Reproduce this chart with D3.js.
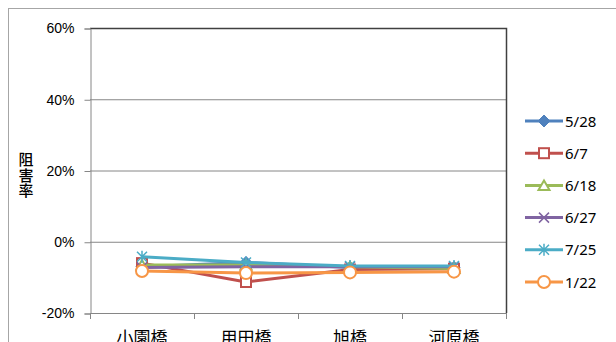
<!DOCTYPE html>
<html>
<head>
<meta charset="utf-8">
<script src="https://cdn.jsdelivr.net/npm/d3@7"></script>
<style>
  body { margin: 0; background: #fff; }
  svg { display: block; font-family: "Noto Sans", "Noto Sans CJK JP", sans-serif; }
</style>
</head>
<body>
<svg width="616" height="342"></svg>
<script>
// データ
const categories = ["小園橋", "用田橋", "旭橋", "河原橋"];
const seriesNames = ["5/28", "6/7", "6/18", "6/27", "7/25", "1/22"];
const v0528 = [-0.070, -0.058, -0.072, -0.072];
const v0607 = [-0.060, -0.113, -0.078, -0.076];
const v0618 = [-0.065, -0.065, -0.070, -0.075];
const v0627 = [-0.072, -0.070, -0.070, -0.070];
const v0725 = [-0.042, -0.058, -0.068, -0.068];
const v0122 = [-0.082, -0.088, -0.086, -0.084];
const yTicks = [-0.2, 0, 0.2, 0.4, 0.6];

const colors = ["#4F81BD", "#C0504D", "#9BBB59", "#8064A2", "#4BACC6", "#F79646"];
const markers = ["diamond", "square", "triangle", "cross", "star", "circle"];
const allValues = [v0528, v0607, v0618, v0627, v0725, v0122];

const series = seriesNames.map((name, i) => ({
    name: name,
    color: colors[i],
    marker: markers[i],
    values: allValues[i]
}));

const svg = d3.select("svg");

// 外枠
svg.append("rect")
    .attr("x", 8.5).attr("y", 8.5)
    .attr("width", 700).attr("height", 400)
    .attr("fill", "none")
    .attr("stroke", "#a6a6a6");

const plotLeft = 90, plotRight = 506, plotTop = 28, plotBottom = 313;

const x = d3.scaleBand().domain(categories).range([plotLeft, plotRight]);
const y = d3.scaleLinear().domain([-0.2, 0.6]).range([plotBottom, plotTop]);

// グリッド線
svg.append("g")
    .selectAll("line")
    .data(yTicks.filter(d => d > -0.2 && d < 0.6))
    .join("line")
    .attr("x1", plotLeft).attr("x2", plotRight)
    .attr("y1", d => y(d) + 0.5).attr("y2", d => y(d) + 0.5)
    .attr("stroke", "#868686");

// プロット枠 (上・右)
svg.append("path")
    .attr("d", `M${plotLeft},${y(0.6) + 0.5}H${plotRight + 0.5}V${plotBottom}`)
    .attr("fill", "none")
    .attr("stroke", "#404040")
    .attr("stroke-width", 1.5);

// Y軸
const pct = d3.format(".0%");
const yAxis = svg.append("g")
    .attr("transform", `translate(${plotLeft + 0.5},0.5)`)
    .call(d3.axisLeft(y).tickValues(yTicks)
        .tickFormat(d => pct(d).replace("−", "-"))
        .tickSize(6).tickPadding(10));
yAxis.select(".domain").attr("stroke", "#868686");
yAxis.selectAll(".tick line").attr("stroke", "#868686");
yAxis.selectAll("text").attr("font-size", 14).attr("fill", "#000");

// X軸
const xTickPos = d3.range(categories.length + 1).map(i => plotLeft + i * x.step());
svg.append("line")
    .attr("x1", plotLeft).attr("x2", plotRight)
    .attr("y1", plotBottom + 0.5).attr("y2", plotBottom + 0.5)
    .attr("stroke", "#868686");
svg.append("g")
    .selectAll("line")
    .data(xTickPos)
    .join("line")
    .attr("x1", d => Math.round(d) + 0.5).attr("x2", d => Math.round(d) + 0.5)
    .attr("y1", plotBottom).attr("y2", plotBottom + 6)
    .attr("stroke", "#868686");
svg.append("g")
    .selectAll("text")
    .data(categories)
    .join("text")
    .attr("x", d => x(d) + x.bandwidth() / 2)
    .attr("y", 344)
    .attr("text-anchor", "middle")
    .attr("font-size", 17)
    .attr("font-family", "Noto Sans CJK JP")
    .text(d => d);

// Y軸タイトル (縦書き)
const yTitle = svg.append("text")
    .attr("text-anchor", "middle")
    .attr("font-size", 15)
    .attr("font-weight", 500)
    .attr("font-family", "Noto Sans CJK JP");
yTitle.selectAll("tspan")
    .data(["阻", "害", "率"])
    .join("tspan")
    .attr("x", 26)
    .attr("y", (d, i) => 165 + i * 15.5)
    .text(d => d);

// マーカー描画
function drawMarker(g, type, color) {
    if (type === "diamond") {
        g.append("path").attr("d", "M0,-6L6,0L0,6L-6,0Z")
            .attr("fill", color).attr("stroke", color);
    } else if (type === "square") {
        g.append("rect").attr("x", -5).attr("y", -5).attr("width", 10).attr("height", 10)
            .attr("fill", "#fff").attr("stroke", color).attr("stroke-width", 2);
    } else if (type === "triangle") {
        g.append("path").attr("d", "M0,-5L5.5,4.5L-5.5,4.5Z")
            .attr("fill", "#fff").attr("stroke", color).attr("stroke-width", 2);
    } else if (type === "cross") {
        g.append("path").attr("d", "M-5,-5L5,5M-5,5L5,-5")
            .attr("stroke", color).attr("stroke-width", 1.5);
    } else if (type === "star") {
        g.append("path").attr("d", "M-5,-5L5,5M-5,5L5,-5M0,-6L0,6")
            .attr("stroke", color).attr("stroke-width", 1.5);
    } else {
        g.append("circle").attr("r", 6)
            .attr("fill", "#fff").attr("stroke", color).attr("stroke-width", 2);
    }
}

const line = d3.line()
    .x((d, i) => x(categories[i]) + x.bandwidth() / 2)
    .y(d => y(d));

series.forEach(s => {
    const g = svg.append("g");
    g.append("path")
        .attr("d", line(s.values))
        .attr("fill", "none")
        .attr("stroke", s.color)
        .attr("stroke-width", 3)
        .attr("stroke-linejoin", "round");
    s.values.forEach((v, i) => {
        const m = g.append("g")
            .attr("transform", `translate(${x(categories[i]) + x.bandwidth() / 2},${y(v)})`);
        drawMarker(m, s.marker, s.color);
    });
});

// 凡例
const legend = svg.append("g");
series.forEach((s, i) => {
    const ly = 121 + i * 32.2;
    const g = legend.append("g").attr("transform", `translate(0,${ly})`);
    g.append("line")
        .attr("x1", 525).attr("x2", 563)
        .attr("stroke", s.color).attr("stroke-width", 3);
    const m = g.append("g").attr("transform", "translate(544,0)");
    drawMarker(m, s.marker, s.color);
    g.append("text")
        .attr("x", 565).attr("y", 5.5)
        .attr("font-size", 15)
        .text(s.name);
});
</script>
</body>
</html>
